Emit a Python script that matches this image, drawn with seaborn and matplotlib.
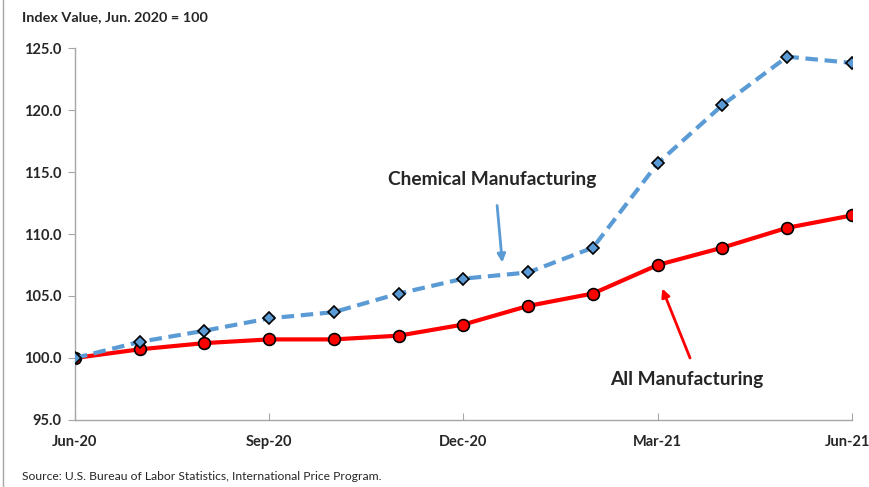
import pandas as pd
import seaborn as sns
import matplotlib.pyplot as plt
from matplotlib.lines import Line2D
from matplotlib.transforms import ScaledTranslation

# ------------------------------ data ------------------------------------------
months = list(range(13))
tick_pos = [0, 3, 6, 9, 12]
tick_labels = ["Jun-20", "Sep-20", "Dec-20", "Mar-21", "Jun-21"]

chemical = [100.0, 101.3, 102.2, 103.2, 103.7, 105.2, 106.4, 106.9, 108.9,
            115.7, 120.4, 124.3, 123.8]
all_manuf = [100.0, 100.7, 101.2, 101.5, 101.5, 101.8, 102.7, 104.2, 105.2,
             107.5, 108.9, 110.5, 111.5]

df = pd.DataFrame({"month": months, "chemical": chemical, "all": all_manuf})

# ------------------------------ plot ------------------------------------------
sns.set_style("white")
plt.rcParams['font.family'] = ['Lato', 'DejaVu Sans']

fig = plt.figure(figsize=(8.7, 4.87), dpi=100)
ax = fig.add_axes([0.0862, 0.1376, 0.893, 0.7638])

sns.lineplot(data=df, x="month", y="chemical", ax=ax, color="#5B9BD5",
             linewidth=3, linestyle=(0, (3, 1.6)), marker="D", markersize=6.5,
             markerfacecolor="#5B9BD5", markeredgecolor="black",
             markeredgewidth=1.2, zorder=3)
sns.lineplot(data=df, x="month", y="all", ax=ax, color="#FF0000",
             linewidth=3, marker="o", markersize=8.5,
             markerfacecolor="#FF0000", markeredgecolor="black",
             markeredgewidth=1.2, zorder=2)

ax.set_xlim(0, 12)
ax.set_ylim(95, 125)
yt = [95, 100, 105, 110, 115, 120, 125]
ax.set_yticks(yt)
ax.set_yticklabels([f"{v:.1f}" for v in yt], fontweight="bold", fontsize=10.5)
ax.set_xticks(tick_pos)
ax.set_xticklabels(tick_labels, fontweight="bold", fontsize=10.5)
ax.set_xlabel("")
ax.set_ylabel("")

for side in ["top", "right"]:
    ax.spines[side].set_visible(False)
for side in ["left", "bottom"]:
    ax.spines[side].set_color("#A6A6A6")
    ax.spines[side].set_linewidth(1)
ax.tick_params(axis="y", direction="out", length=5, color="#A6A6A6",
               left=True, pad=5)
ax.tick_params(axis="x", direction="in", length=5, color="#A6A6A6",
               bottom=True, pad=11)

# last x label sits right at the figure edge, nudge it in a bit
last = ax.get_xticklabels()[-1]
last.set_transform(last.get_transform()
                   + ScaledTranslation(-4 / 100, 0, fig.dpi_scale_trans))

# annotations
ax.text(6.45, 114.4, "Chemical Manufacturing", ha="center", va="center",
        fontsize=13.8, fontweight="bold")
ax.annotate("", xy=(6.6, 107.7), xytext=(6.52, 112.3),
            arrowprops=dict(arrowstyle="-|>", color="#5B9BD5", lw=2,
                            shrinkA=0, shrinkB=0, mutation_scale=12))
ax.text(9.45, 98.25, "All Manufacturing", ha="center", va="center",
        fontsize=13.8, fontweight="bold")
ax.annotate("", xy=(9.07, 105.6), xytext=(9.5, 100.0),
            arrowprops=dict(arrowstyle="-|>", color="#FF0000", lw=2,
                            shrinkA=0, shrinkB=0, mutation_scale=12))

fig.text(22 / 870, 1 - 17 / 487, "Index Value, Jun. 2020 = 100",
         fontsize=10.4, fontweight="bold", va="center", ha="left")
fig.text(22 / 870, 1 - 477 / 487,
         "Source: U.S. Bureau of Labor Statistics, International Price Program.",
         fontsize=8.7, va="center", ha="left")

fig.add_artist(Line2D([3 / 870, 3 / 870], [0, 1], transform=fig.transFigure,
                      color="#A6A6A6", linewidth=1))

plt.savefig("out.png", dpi=100)
